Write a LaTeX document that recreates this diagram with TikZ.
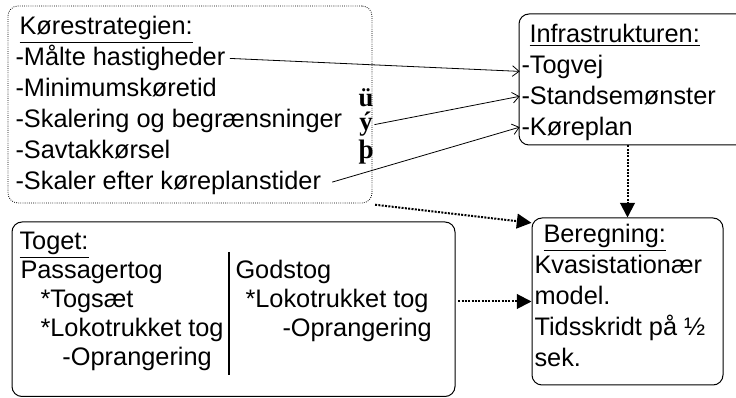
\documentclass[tikz,border=0pt]{standalone}
\usepackage{fontspec}
\setmainfont{Liberation Sans}
\newfontfamily\serifbf{Liberation Serif}
\usetikzlibrary{arrows.meta,fit}

\tikzset{every picture/.style={line width=0.75pt}}
\tikzset{
  txt/.style={anchor=base west, inner sep=0pt, font=\fontsize{19}{23}\selectfont},
  glyph/.style={anchor=base, inner sep=0pt, font=\serifbf\bfseries\fontsize{20}{20}\selectfont},
  dotbox/.style={draw, densely dotted, line width=0.6pt, rounded corners=7.5pt, inner sep=0pt},
  linebox/.style={draw, rounded corners=7.5pt, inner sep=0pt},
  thinarrow/.style={line width=0.6pt, shorten >=1pt, -{Straight Barb[length=5pt,width=8pt]}},
  bigarrow/.style={line width=1.5pt, densely dotted, -{Triangle[length=11pt,width=11pt]}}
}

\begin{document}
\begin{tikzpicture}[x=0.75pt,y=0.75pt,yscale=-1,xscale=1]
		\useasboundingbox (0,0) rectangle (736,398);

		%Shape: Rounded Rect (Koerestrategien)
		\coordinate (k1) at (8,6); \coordinate (k2) at (372,203);
		\node [dotbox, fit=(k1)(k2)] (korebox) {};
		%Shape: Rounded Rect (Infrastrukturen)
		\coordinate (i1) at (519,14); \coordinate (i2) at (748,145);
		\node [linebox, fit=(i1)(i2)] (infrabox) {};
		%Shape: Rounded Rect (Beregning)
		\coordinate (b1) at (532,218); \coordinate (b2) at (723,385);
		\node [linebox, fit=(b1)(b2)] (beregbox) {};
		%Shape: Rounded Rect (Toget)
		\coordinate (t1) at (12,222); \coordinate (t2) at (455,396.5);
		\node [linebox, fit=(t1)(t2)] (togetbox) {};

		%Straight Lines (divider)
		\draw [line width=0.9pt] (229,252) -- (229,375) ;

		% Text Node
		\node [txt] (koretitle) at (19,35) {\underline{Kørestrategien:}};
		% Text Node
		\node [txt] (maalte) at (15,66) {-Målte hastigheder};
		% Text Node
		\node [txt] (minimum) at (15,97) {-Minimumskøretid};
		% Text Node
		\node [txt] (skalering) at (15,128) {-Skalering og begrænsninger};
		% Text Node
		\node [txt] (savtak) at (15,159) {-Savtakkørsel};
		% Text Node
		\node [txt] (skaler) at (15,190) {-Skaler efter køreplanstider};
		% Text Node
		\node [glyph] (glyphu) at (366,107) {ü};
		% Text Node
		\node [glyph] (glyphy) at (366,131) {ý};
		% Text Node
		\node [glyph] (glyphp) at (366,159) {þ};

		% Text Node
		\node [txt] (infratitle) at (529,43) {\underline{Infrastrukturen:}};
		% Text Node
		\node [txt] (togvej) at (521,74) {-Togvej};
		% Text Node
		\node [txt] (stands) at (521,105) {-Standsemønster};
		% Text Node
		\node [txt] (koreplan) at (521,136) {-Køreplan};

		% Text Node
		\node [txt] (beregtitle) at (543,243) {\underline{Beregning:}};
		% Text Node
		\node [txt] (kvasi) at (534,274) {Kvasistationær};
		% Text Node
		\node [txt] (model) at (534,305) {model.};
		% Text Node
		\node [txt] (tidsskridt) at (534,336) {Tidsskridt på ½};
		% Text Node
		\node [txt] (sek) at (534,367) {sek.};

		% Text Node
		\node [txt] (togettitle) at (19,250) {\underline{Toget:}};
		% Text Node
		\node [txt] (passager) at (20,279) {Passagertog};
		% Text Node
		\node [txt] (togsaet) at (40,308) {*Togsæt};
		% Text Node
		\node [txt] (lokoA) at (40,337) {*Lokotrukket tog};
		% Text Node
		\node [txt] (oprangA) at (62,366) {-Oprangering};
		% Text Node
		\node [txt] (godstog) at (235,279) {Godstog};
		% Text Node
		\node [txt] (lokoB) at (245,308) {*Lokotrukket tog};
		% Text Node
		\node [txt] (oprangB) at (282,337) {-Oprangering};

		%Straight Lines (thin arrows)
		\draw [thinarrow] ([xshift=3pt]maalte.east) -- ([yshift=3pt]togvej.west) ;
		\draw [thinarrow] ([xshift=1pt]glyphy.east) -- (stands.west) ;
		\draw [thinarrow] ([xshift=8pt,yshift=-1pt]skaler.east) -- ([yshift=-2pt]koreplan.west) ;

		%Straight Lines (thick dotted arrows)
		\draw [bigarrow] ([xshift=2pt,yshift=1pt]korebox.south east) -- ([yshift=4pt]beregbox.north west) ;
		\draw [bigarrow] (infrabox.south -| beregbox.north) -- (beregbox.north) ;
		\draw [bigarrow] ([xshift=2pt]togetbox.east |- beregbox.west) -- (beregbox.west) ;

\end{tikzpicture}
\end{document}
